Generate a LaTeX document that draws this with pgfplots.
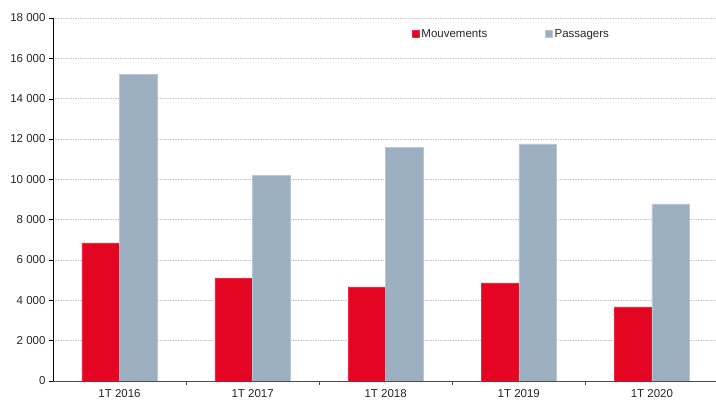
\documentclass[border=0pt]{standalone}
\usepackage{fontspec}
\setmainfont{Liberation Sans}
\usepackage{pgfplots}
\pgfplotsset{compat=1.18}
\definecolor{cred}{HTML}{E30521}
\definecolor{cgray}{HTML}{9BAFC1}
\begin{document}
\begin{tikzpicture}
\begin{axis}[
  name=ax,
  width=663pt, height=363pt, scale only axis,
  ybar=0pt, bar width=37.7pt,
  xmin=-0.5, xmax=4.48, ymin=0, ymax=18000,
  xtick={0,1,2,3,4},
  xticklabels={1T 2016,1T 2017,1T 2018,1T 2019,1T 2020},
  minor xtick={0.5,1.5,2.5,3.5},
  ytick={0,2000,...,18000},
  axis x line*=bottom, axis y line*=left,
  x axis line style={draw=black!70, -},
  y axis line style={draw=black, -},
  tick align=outside,
  major tick length=4pt,
  minor tick length=4pt,
  xtick style={draw=none},
  minor x tick style={draw=black!70},
  ytick style={draw=black},
  ymajorgrids,
  major grid style={draw=black!22, dash pattern=on 1.5pt off 1pt, line width=0.5pt},
  tick label style={font=\fontsize{11.5}{13}\selectfont, text=black!85},
  /pgf/number format/assume math mode=true,
  /pgf/number format/1000 sep={\ },
  scaled y ticks=false,
  yticklabel style={/pgf/number format/fixed},
  xticklabel style={yshift=-1pt},
  legend style={at={(0.5415,0.975)}, anchor=north west, draw=none, fill=none,
    inner sep=0pt, font=\fontsize{11.5}{13}\selectfont, text=black!85,
    legend columns=2,
    /tikz/every even column/.append style={column sep=56pt}},
  legend image code/.code={\fill[#1] (0pt,-3.5pt) rectangle (7pt,3.5pt);},
]
\addplot[fill=cred, draw=cred!85!white, line width=0.4pt] coordinates {(0,6850) (1,5100) (2,4660) (3,4860) (4,3670)};
\addlegendentry{Mouvements}
\addplot[fill=cgray, draw=cgray!70!white, line width=0.4pt] coordinates {(0,15220) (1,10200) (2,11600) (3,11750) (4,8780)};
\addlegendentry{Passagers}
\end{axis}
\path[use as bounding box] ([xshift=-53pt,yshift=-20pt]ax.south west) rectangle ([yshift=18pt]ax.north east);
\end{tikzpicture}
\end{document}
